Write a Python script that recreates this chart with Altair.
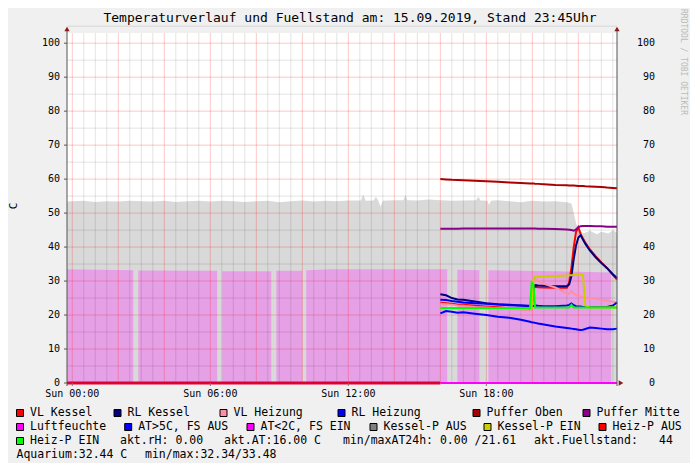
import altair as alt
import pandas as pd

FONT = "DejaVu Sans Mono"
X_MIN, X_MAX = -0.23, 23.68
Y_MAX = 103.0
W, H = 550, 350

TITLE = "Temperaturverlauf und Fuellstand am: 15.09.2019, Stand 23:45Uhr"

# Fuellstand (grey area)
FILL_HOURS = [-0.23, 0.5, 1.0, 1.5, 2.0, 2.5, 3.0, 3.5, 4.0, 4.5, 5.0, 5.5, 6.0, 6.5, 7.0, 7.5,
              8.0, 8.5, 9.0, 9.5, 10.0, 10.5, 11.0, 11.5, 12.0, 12.55, 12.65, 12.75, 13.1, 13.2,
              13.3, 13.4, 13.5, 14.0, 14.4, 14.48, 14.56, 15.0, 15.5, 16.0, 16.5, 17.55, 17.65,
              17.75, 18.05, 18.12, 18.2, 18.5, 19.0, 19.5, 20.0, 20.5, 21.0, 21.5, 21.7, 21.8,
              21.9, 22.0, 22.2, 22.5, 22.8, 23.0, 23.3, 23.5, 23.68]
FILL_VALUES = [53.4, 53.6, 53.3, 53.5, 53.4, 53.6, 53.5, 53.4, 53.6, 53.3, 53.5, 53.6, 53.4, 53.6,
               53.5, 53.3, 53.5, 53.6, 53.2, 53.5, 53.7, 53.4, 53.6, 53.5, 53.7, 53.7, 55.5, 53.6,
               53.7, 54.8, 53.6, 51.9, 53.6, 53.8, 53.8, 55.3, 53.8, 53.7, 54.0, 53.8, 53.6, 53.8,
               54.8, 53.7, 53.6, 52.4, 53.6, 53.8, 53.5, 53.2, 53.6, 53.4, 53.5, 53.2, 52.8, 50.0,
               47.0, 45.5, 44.0, 44.8, 43.8, 44.5, 44.0, 44.9, 44.2]

# Aquarium (violet area, with gaps)
AQ_HOURS = [-0.23, 2.65, 2.87, 6.30, 6.52, 8.65, 8.87, 10.0, 10.17, 11.2, 16.3, 16.74, 17.7,
            18.09, 21.0, 23.43]
AQ_VALUES = [33.5, 33.2, 33.1, 33.0, 32.9, 32.9, 33.0, 33.0, 33.2, 33.5, 33.5, 33.3, 33.2,
             33.2, 32.9, 32.5]
AQ_SEGMENT = [1, 1, 2, 2, 3, 3, 4, 4, 5, 5, 5, 6, 6, 7, 7, 7]

# temperature series, common time grid (hours)
T = [16.0, 16.25, 16.5, 16.75, 17.0, 17.5, 18.0, 18.5, 19.0, 19.5, 19.9, 19.97, 20.05, 20.12,
     20.25, 20.5, 21.0, 21.5, 21.6, 21.7, 21.8, 21.9, 22.0, 22.1, 22.2, 22.3, 22.5, 22.75, 23.0,
     23.25, 23.5, 23.68]
VL_KESSEL = [23.6, 23.5, 23.3, 23.1, 23.0, 22.7, 22.5, 22.3, 22.0, 21.8, 21.6, 21.8, 28.0, 28.3,
             28.2, 28.1, 28.0, 28.0, 29.5, 34.0, 40.0, 44.5, 45.8, 43.8, 42.5, 41.3, 39.3, 37.3,
             35.5, 33.8, 31.8, 30.4]
RL_KESSEL = [26.1, 25.8, 25.0, 24.6, 24.5, 24.0, 23.5, 23.2, 23.0, 22.8, 22.6, 22.8, 28.0, 28.8,
             28.7, 28.6, 28.5, 28.5, 29.0, 31.5, 36.5, 40.5, 42.8, 43.5, 42.2, 41.0, 39.0, 37.0,
             35.3, 33.8, 32.0, 30.9]
VL_HEIZUNG = [23.3, 23.2, 23.0, 22.8, 22.7, 22.4, 22.2, 22.0, 21.8, 21.6, 21.4, 21.6, 30.8, 30.6,
              30.0, 29.2, 28.1, 26.4, 26.2, 27.1, 26.3, 25.9, 25.6, 25.4, 25.3, 25.2, 25.0, 24.8,
              24.5, 24.2, 23.9, 23.7]
RL_HEIZUNG = [24.5, 24.4, 24.1, 23.9, 23.7, 23.5, 23.3, 23.1, 22.9, 22.8, 22.7, 22.6, 22.7, 22.8,
              22.7, 22.6, 22.6, 22.8, 23.0, 23.4, 22.9, 22.6, 22.5, 22.5, 22.4, 22.4, 22.4, 22.4,
              22.4, 22.4, 22.8, 23.7]
PUFFER_OBEN = [60.0, 59.9, 59.8, 59.75, 59.7, 59.5, 59.35, 59.2, 59.0, 58.85, 58.7, 58.7, 58.7,
               58.65, 58.6, 58.5, 58.3, 58.2, 58.15, 58.1, 58.1, 58.05, 58.0, 58.0, 57.95, 57.9,
               57.85, 57.75, 57.65, 57.5, 57.4, 57.3]
PUFFER_MITTE = [45.4, 45.4, 45.4, 45.4, 45.45, 45.45, 45.45, 45.5, 45.5, 45.5, 45.45, 45.45,
                45.45, 45.45, 45.4, 45.4, 45.3, 45.2, 45.1, 45.0, 44.8, 45.2, 45.9, 46.1, 46.2,
                46.2, 46.2, 46.1, 46.1, 46.0, 46.0, 46.0]
AUSSEN = [20.5, 21.2, 21.0, 20.7, 20.8, 20.4, 20.0, 19.5, 19.2, 18.6, 18.0, 17.9, 17.8, 17.7,
          17.5, 17.2, 16.6, 16.2, 16.1, 16.0, 15.9, 15.8, 15.7, 15.6, 15.7, 15.9, 16.3, 16.2,
          16.0, 15.8, 15.8, 16.0]
KESSEL_P_EIN = [22.1, 22.1, 22.1, 22.1, 22.1, 22.1, 22.1, 22.1, 22.1, 22.1, 22.1, 22.1, 30.5,
                31.3, 31.3, 31.4, 31.5, 31.6, 31.7, 31.7, 31.8, 31.9, 32.0, 32.0, 31.8, 22.8,
                22.2, 22.2, 22.2, 22.2, 22.2, 22.2]
HEIZ_P_EIN = [22.1, 22.1, 22.1, 22.1, 22.1, 22.1, 22.1, 22.1, 22.1, 22.1, 22.1, 29.5, 29.0, 22.2,
              22.2, 22.2, 22.2, 22.2, 22.2, 23.0, 22.2, 22.2, 22.2, 22.2, 22.2, 22.2, 22.2, 22.2,
              22.2, 22.2, 22.2, 22.2]

HEIZ_P_AUS_HOURS = [X_MIN, 16.0]
HEIZ_P_AUS_VALUES = [0.0, 0.0]
LUFT_HOURS = [16.0, X_MAX]
LUFT_VALUES = [0.0, 0.0]

X_TICKS = [0, 6, 12, 18]
X_TICK_LABELS = ["Sun 00:00", "Sun 06:00", "Sun 12:00", "Sun 18:00"]
Y_TICKS = list(range(0, 101, 10))

LEGEND_LABELS = ["VL Kessel", "RL Kessel", "VL Heizung", "RL Heizung", "Puffer Oben",
                 "Puffer Mitte", "Luftfeuchte", "AT>5C, FS AUS", "AT<2C, FS EIN",
                 "Kessel-P AUS", "Kessel-P EIN", "Heiz-P AUS", "Heiz-P EIN"]
LEGEND_COLORS = ["#ff0000", "#000080", "#ff8fa3", "#0000ff", "#aa0000", "#880088", "#ff00ff",
                 "#0000ff", "#ff00ff", "#808080", "#cccc00", "#ff0000", "#00ff00"]
STAT_TEXTS = ["akt.rH: 0.00", "akt.AT:16.00 C", "min/maxAT24h: 0.00 /21.61", "akt.Fuellstand:",
              "44", "Aquarium:32.44 C", "min/max:32.34/33.48"]

# ---------------- layout (pixels relative to plot area) ----------------
PLOT_LEFT_PAGE, PLOT_TOP_PAGE = 67, 33
LEG_SQ_X = [16.5, 114, 220, 338, 473, 583, 16.5, 124.7, 247, 370, 484, 599, 16.5]
LEG_ROW = [0] * 6 + [1] * 6 + [2]
ROW_Y = [413, 427, 441, 455]
STAT_X = [120, 224, 343, 534, 659, 16.5, 145]
STAT_ROW = [2, 2, 2, 2, 2, 3, 3]

leg_df = pd.DataFrame({
    "label": LEGEND_LABELS,
    "color": LEGEND_COLORS,
    "sx": [x + 3.5 - PLOT_LEFT_PAGE for x in LEG_SQ_X],
    "tx": [x + 13.5 - PLOT_LEFT_PAGE for x in LEG_SQ_X],
    "py": [ROW_Y[r] - PLOT_TOP_PAGE for r in LEG_ROW],
})
stat_df = pd.DataFrame({
    "label": STAT_TEXTS,
    "tx": [x - PLOT_LEFT_PAGE for x in STAT_X],
    "py": [ROW_Y[r] - PLOT_TOP_PAGE for r in STAT_ROW],
})

xs = alt.Scale(domain=[X_MIN, X_MAX], nice=False, zero=False)
ys = alt.Scale(domain=[0, Y_MAX], nice=False, zero=False)
X = alt.X("hour:Q", scale=xs, axis=None)
Y = alt.Y("value:Q", scale=ys, axis=None)

fill_df = pd.DataFrame({"hour": FILL_HOURS, "value": FILL_VALUES})
fill_layer = alt.Chart(fill_df).mark_area(color="#d9d9d9").encode(x=X, y=Y)

aq_df = pd.DataFrame({"hour": AQ_HOURS, "value": AQ_VALUES, "seg": AQ_SEGMENT})
aq_layers = [
    alt.Chart(aq_df[aq_df.seg == s]).mark_area(color="#e6a0e6").encode(x=X, y=Y)
    for s in sorted(set(AQ_SEGMENT))
]

# grid
minor_h = pd.DataFrame({"value": [v + 5 for v in range(0, 101, 10)]})
major_h = pd.DataFrame({"value": list(range(10, 101, 10))})
minor_v = pd.DataFrame({"hour": [h * 0.5 for h in range(0, 48) if h % 4 != 0]})
major_v = pd.DataFrame({"hour": list(range(0, 24, 2))})
grid_layers = [
    alt.Chart(minor_h).mark_rule(color="black", opacity=0.11, strokeWidth=1).encode(y=Y),
    alt.Chart(minor_v).mark_rule(color="black", opacity=0.11, strokeWidth=1).encode(x=X),
    alt.Chart(major_h).mark_rule(color="#ff0000", opacity=0.22, strokeWidth=1).encode(y=Y),
    alt.Chart(major_v).mark_rule(color="#ff0000", opacity=0.22, strokeWidth=1).encode(x=X),
]

series = [
    ("VL Kessel", VL_KESSEL, "#ff0000"),
    ("RL Kessel", RL_KESSEL, "#000080"),
    ("VL Heizung", VL_HEIZUNG, "#ff8fa3"),
    ("RL Heizung", RL_HEIZUNG, "#0000ff"),
    ("Puffer Oben", PUFFER_OBEN, "#aa0000"),
    ("Puffer Mitte", PUFFER_MITTE, "#880088"),
    ("AT", AUSSEN, "#0000ff"),
    ("Kessel-P EIN", KESSEL_P_EIN, "#cccc00"),
    ("Heiz-P EIN", HEIZ_P_EIN, "#00ff00"),
]
line_layers = []
for name, vals, col in series:
    d = pd.DataFrame({"hour": T, "value": vals})
    line_layers.append(alt.Chart(d).mark_line(color=col, strokeWidth=2).encode(x=X, y=Y))

bottom_layers = [
    alt.Chart(pd.DataFrame({"hour": LUFT_HOURS, "value": LUFT_VALUES})).mark_line(
        color="#ff00ff", strokeWidth=2).encode(x=X, y=Y),
    alt.Chart(pd.DataFrame({"hour": HEIZ_P_AUS_HOURS, "value": HEIZ_P_AUS_VALUES})).mark_line(
        color="#dd0033", strokeWidth=3).encode(x=X, y=Y),
]

one = pd.DataFrame({"k": [0]})
frame_layers = [
    alt.Chart(one).mark_rule(color="#555555", strokeWidth=1).encode(
        x=alt.value(0), y=alt.value(-4), y2=alt.value(H + 3)),
    alt.Chart(one).mark_rule(color="#555555", strokeWidth=1).encode(
        x=alt.value(W), y=alt.value(-4), y2=alt.value(H + 3)),
    alt.Chart(one).mark_point(shape="triangle-up", filled=True, size=28, color="#8b1a1a",
                              opacity=1).encode(x=alt.value(0), y=alt.value(-4)),
    alt.Chart(one).mark_point(shape="triangle-up", filled=True, size=28, color="#8b1a1a",
                              opacity=1).encode(x=alt.value(W), y=alt.value(-4)),
    alt.Chart(one).mark_point(shape="triangle-right", filled=True, size=28, color="#8b1a1a",
                              opacity=1).encode(x=alt.value(W + 4), y=alt.value(H)),
]

ytick_df = pd.DataFrame({"value": Y_TICKS})
xtick_df = pd.DataFrame({"hour": X_TICKS, "label": X_TICK_LABELS})
axis_layers = [
    alt.Chart(ytick_df).mark_rule(color="#555555", strokeWidth=1).encode(
        y=Y, x=alt.value(-3), x2=alt.value(0)),
    alt.Chart(ytick_df).mark_text(align="right", baseline="middle", font=FONT, fontSize=10,
                                  color="black").encode(y=Y, x=alt.value(-7), text="value:Q"),
    alt.Chart(ytick_df).mark_text(align="right", baseline="middle", font=FONT, fontSize=10,
                                  color="black").encode(y=Y, x=alt.value(588), text="value:Q"),
    alt.Chart(xtick_df).mark_rule(color="#777777", strokeWidth=1).encode(
        x=X, y=alt.value(H), y2=alt.value(H + 3)),
    alt.Chart(xtick_df).mark_text(align="center", baseline="middle", font=FONT, fontSize=10,
                                  color="black").encode(x=X, y=alt.value(H + 11), text="label:N"),
    alt.Chart(pd.DataFrame({"t": ["C"]})).mark_text(
        align="center", baseline="middle", font=FONT, fontSize=11, color="black",
        angle=270).encode(x=alt.value(-53), y=alt.value(173), text="t:N"),
]

title_layer = alt.Chart(pd.DataFrame({"t": [TITLE]})).mark_text(
    align="center", baseline="middle", font=FONT, fontSize=13, color="black").encode(
    x=alt.value(283), y=alt.value(-15), text="t:N")

watermark = alt.Chart(pd.DataFrame({"t": ["RRDTOOL / TOBI OETIKER"]})).mark_text(
    align="left", baseline="middle", font=FONT, fontSize=8, color="#bbbbbb", angle=90).encode(
    x=alt.value(616), y=alt.value(-24), text="t:N")

leg_sq = alt.Chart(leg_df).mark_square(size=49, filled=True, stroke="black", strokeWidth=1,
                                       opacity=1).encode(
    x=alt.X("sx:Q", scale=None, axis=None), y=alt.Y("py:Q", scale=None, axis=None),
    fill=alt.Fill("color:N", scale=None))
leg_tx = alt.Chart(leg_df).mark_text(align="left", baseline="middle", font=FONT, fontSize=11.5,
                                     color="black").encode(
    x=alt.X("tx:Q", scale=None, axis=None), y=alt.Y("py:Q", scale=None, axis=None),
    text="label:N")
stat_tx = alt.Chart(stat_df).mark_text(align="left", baseline="middle", font=FONT,
                                       fontSize=11.5, color="black").encode(
    x=alt.X("tx:Q", scale=None, axis=None), y=alt.Y("py:Q", scale=None, axis=None),
    text="label:N")

chart = alt.layer(
    fill_layer, *aq_layers, *grid_layers, *bottom_layers, *line_layers, *frame_layers,
    *axis_layers, title_layer, watermark, leg_sq, leg_tx, stat_tx,
).properties(
    width=W, height=H,
    autosize=alt.AutoSizeParams(type="none"),
    padding={"left": 59, "top": 25, "right": 73, "bottom": 80},
    background="#f0f0f0",
).configure_view(stroke=None, fill="white")

chart.save("out.html", embed_options={"renderer": "svg", "actions": False})
